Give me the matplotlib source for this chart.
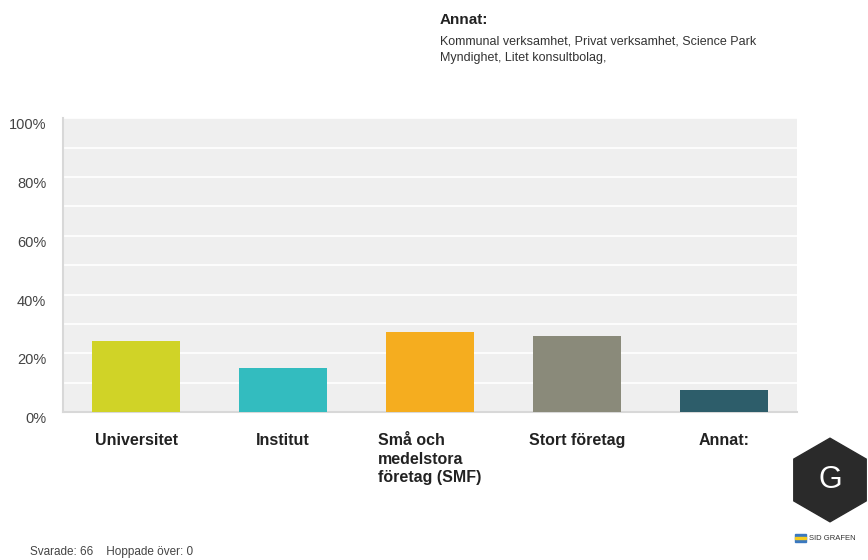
import matplotlib.pyplot as plt
from matplotlib.patches import RegularPolygon, Rectangle

plt.rcParams['font.family'] = ['Liberation Sans', 'DejaVu Sans']

categories = ['Universitet', 'Institut', 'Små och\nmedelstora\nföretag (SMF)', 'Stort företag', 'Annat:']
percent = [24.24, 15.15, 27.27, 25.76, 7.58]
colors = ['#d0d327', '#33bcbf', '#f5ad1f', '#8a8a7a', '#2d5d6a']
yticks = [0, 20, 40, 60, 80, 100]
ytick_labels = ['0%', '20%', '40%', '60%', '80%', '100%']
other_title = 'Annat:'
other_text = 'Kommunal verksamhet, Privat verksamhet, Science Park\nMyndighet, Litet konsultbolag,'
footer = 'Svarade: 66    Hoppade över: 0'

fig = plt.figure(figsize=(8.68, 5.6), dpi=100)
ax = fig.add_axes([0.0726, 0.264, 0.8456, 0.525])
ax.set_facecolor('#efefef')

x = range(len(categories))
ax.bar(x, percent, width=0.6, color=colors, zorder=3)

ax.set_xlim(-0.5, 4.5)
ax.set_ylim(0, 100)
ax.set_yticks(yticks)
ax.set_yticklabels(ytick_labels, fontsize=10.5, color='#444444', va='top')
ax.set_yticks(range(0, 101, 10), minor=True)
ax.grid(axis='y', which='both', color='white', linewidth=1.2, zorder=1)
ax.tick_params(axis='y', which='both', length=0, pad=12)
ax.set_xticks(list(x))
ax.set_xticklabels(categories, fontsize=11.5, fontweight='bold', color='#222222',
                   multialignment='left', va='top', linespacing=1.3)
ax.tick_params(axis='x', length=0, pad=15)
for s in ['top', 'right']:
    ax.spines[s].set_visible(False)
ax.spines['left'].set_color('#d8d8d8')
ax.spines['bottom'].set_color('#d8d8d8')
ax.spines['left'].set_linewidth(1.5)
ax.spines['bottom'].set_linewidth(1.5)

fig.text(440 / 868, 1 - 20 / 560, other_title, fontsize=11, fontweight='bold',
         color='#222222', va='center', ha='left')
fig.text(440 / 868, 1 - 36 / 560, other_text, fontsize=9, color='#333333',
         va='top', ha='left', linespacing=1.4)
fig.text(30 / 868, 1 - 552 / 560, footer, fontsize=8.5, color='#444444',
         va='center', ha='left')

# logo
hex_ax = fig.add_axes([788 / 868, 1 - 526 / 560, 84 / 868, 92 / 560])
hex_ax.set_xlim(-1, 1)
hex_ax.set_ylim(-1.1, 1.1)
hex_ax.set_aspect('equal')
hex_ax.axis('off')
hex_ax.add_patch(RegularPolygon((0, 0), 6, radius=1.0, color='#2a2a2a'))
hex_ax.text(0, 0, 'G', fontsize=22, color='white', ha='center', va='center')
fig.patches.append(Rectangle((795 / 868, 1 - 542 / 560), 11 / 868, 8 / 560,
                             transform=fig.transFigure, color='#3a78c0'))
fig.patches.append(Rectangle((795 / 868, 1 - 539 / 560), 11 / 868, 2 / 560,
                             transform=fig.transFigure, color='#f5cc1f'))
fig.text(809 / 868, 1 - 538 / 560, 'SID GRAFEN', fontsize=5.5, color='#333333',
         va='center', ha='left')

plt.savefig('out.png', dpi=100)
